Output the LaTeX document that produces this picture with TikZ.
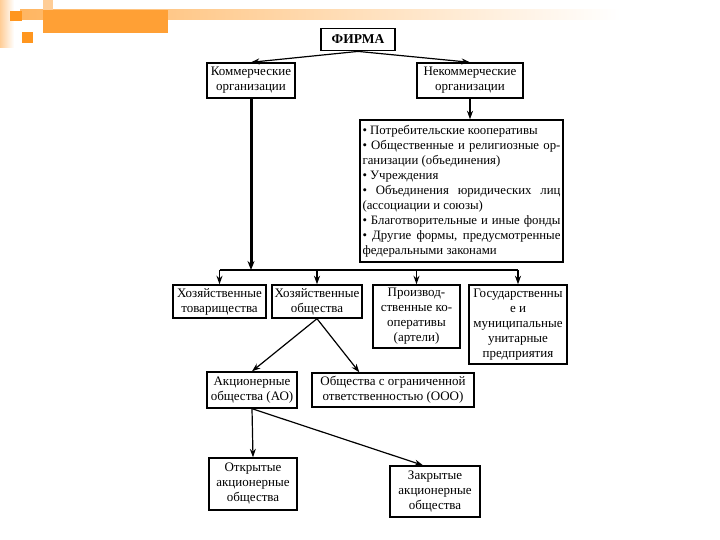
\documentclass[tikz,border=0pt]{standalone}
\usepackage{fontspec}
\setmainfont{Liberation Serif}
\usetikzlibrary{arrows.meta,calc}
\newcommand\jline[1]{\hbox to 198pt{#1}}
\definecolor{orA}{RGB}{255,150,30}
\definecolor{orB}{RGB}{255,205,150}
\begin{document}
\begin{tikzpicture}[x=1pt,y=-1pt,
  box/.style={draw, line width=1.4pt, align=center, inner sep=2pt,
    font=\fontsize{13}{15}\selectfont},
  arr/.style={line width=1.2pt, -{Stealth[length=8.5pt,width=6pt]}},
  thickarr/.style={line width=3pt, -{Stealth[length=9pt,width=7pt]}}
]
\useasboundingbox (0,0) rectangle (720,540);
% decoration
\shade[left color=orB, right color=white] (0,0) rectangle (14,48);
\shade[left color=orA!70, right color=white] (20,10) rectangle (620,20);
\fill[orA!90] (43,10) rectangle (168,33);
\fill[orB] (43,0) rectangle (53,10);
\fill[orA] (10,11) rectangle (22,21);
\fill[orA] (22,32) rectangle (33,43);
% nodes
\node[box, line width=1.8pt, minimum width=74, minimum height=22, font=\fontsize{13.5}{15}\selectfont\bfseries] (firm) at (358,39.5) {ФИРМА};
\node[box, minimum width=88, minimum height=35] (kom) at (251,80.5) {Коммерческие\\организации};
\node[box, minimum width=106, minimum height=35] (nekom) at (470,80.5) {Некоммерческие\\организации};
\node[draw, line width=1.4pt, inner xsep=2.5pt, inner ysep=3pt, minimum height=142,
  font=\fontsize{12.8}{15}\selectfont] (list) at (461.5,191) {\vbox{%
\jline{• Потребительские кооперативы\hfil}
\jline{• Общественные и религиозные ор-}
\jline{ганизации (объединения)\hfil}
\jline{• Учреждения\hfil}
\jline{• Объединения юридических лиц}
\jline{(ассоциации и союзы)\hfil}
\jline{• Благотворительные и иные фонды}
\jline{• Другие формы, предусмотренные}
\jline{федеральными законами\hfil}}};
\node[box, minimum width=93, minimum height=33] (t1) at (219.5,301.5) {Хозяйственные\\товарищества};
\node[box, minimum width=90, minimum height=33] (t2) at (317,301.5) {Хозяйственные\\общества};
\node[box, minimum width=87, minimum height=63] (t3) at (416.5,316.5) {Производ-\\ственные ко-\\оперативы\\(артели)};
\node[box, minimum width=98, minimum height=79] (t4) at (518,324.5) {Государственны\\е и\\муниципальные\\унитарные\\предприятия};
\node[box, minimum width=90, minimum height=36] (ao) at (252,390) {Акционерные\\общества (АО)};
\node[box, minimum width=162, minimum height=34] (ooo) at (393,390) {Общества с ограниченной\\ответственностью (ООО)};
\node[box, minimum width=88, minimum height=52] (open) at (253,484) {Открытые\\акционерные\\общества};
\node[box, minimum width=90, minimum height=51] (closed) at (435,491.5) {Закрытые\\акционерные\\общества};
% connectors
\coordinate (bar) at (254,270);
\draw[arr] (firm.south) -- (kom.north);
\draw[arr] (firm.south) -- (nekom.north);
\draw[arr] (nekom.south) -- (list.north -| nekom.south);
\draw[thickarr] (kom.south) -- (kom.south |- bar);
\draw[line width=1.2pt] (t1.north |- bar) -- (t4.north |- bar);
\draw[arr] (t1.north |- bar) -- (t1.north);
\draw[arr] (t2.north |- bar) -- (t2.north);
\draw[arr] (t3.north |- bar) -- (t3.north);
\draw[arr] (t4.north |- bar) -- (t4.north);
\draw[arr] (t2.south) -- (ao.north);
\draw[arr] (t2.south) -- ($(ooo.north west)+(48,0)$);
\draw[arr] (ao.south) -- (open.north);
\draw[arr] (ao.south) -- ($(closed.north)+(-12,0)$);
\end{tikzpicture}
\end{document}
